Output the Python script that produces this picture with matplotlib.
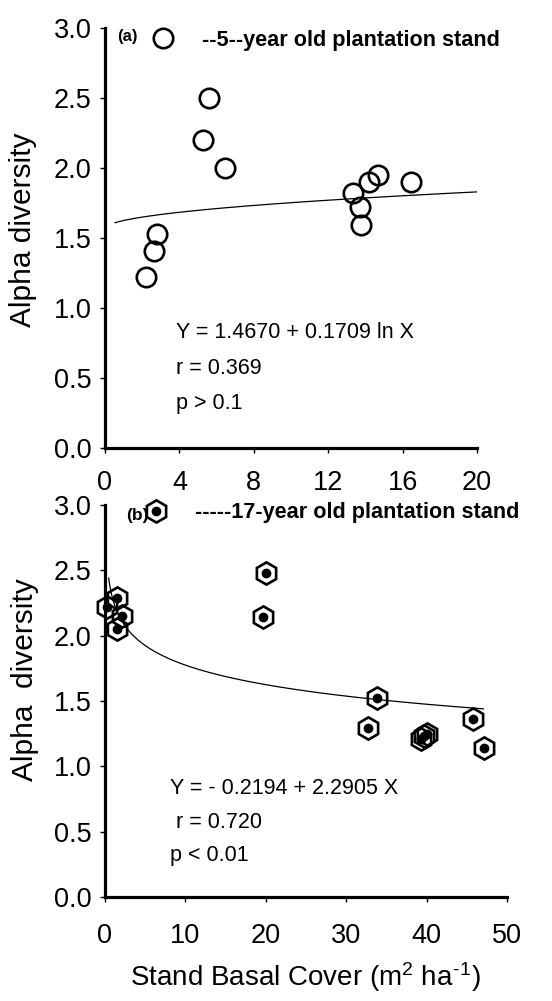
import numpy as np
import matplotlib.pyplot as plt

plt.rcParams['font.family'] = ['Liberation Sans', 'DejaVu Sans']
plt.rcParams['mathtext.default'] = 'regular'

# (a) 5-year old plantation stand
x_a = [2.19, 2.63, 2.81, 5.29, 5.59, 6.45, 13.32, 13.71, 13.75, 14.17, 14.66, 16.43]
y_a = [1.22, 1.41, 1.53, 2.20, 2.50, 2.00, 1.82, 1.72, 1.59, 1.90, 1.95, 1.90]
# (b) 17-year old plantation stand
x_b = [0.3, 1.5, 2.1, 1.5, 19.7, 20.0, 32.7, 33.8, 39.3, 39.7, 40.0, 45.8, 47.2]
y_b = [2.22, 2.29, 2.15, 2.05, 2.14, 2.48, 1.29, 1.52, 1.21, 1.23, 1.25, 1.36, 1.14]

# fitted curves as drawn in the picture
fit_a = (1.566, 0.0589)   # y = c + d*sqrt(x)
fit_b = (2.272, -0.216)   # y = c + d*ln(x)

eq_a = ['Y = 1.4670 + 0.1709 ln X', 'r = 0.369', 'p > 0.1']
eq_b = ['Y = - 0.2194 + 2.2905 X', ' r = 0.720', 'p < 0.01']

fig = plt.figure(figsize=(5.52, 10.01), dpi=100)
ax1 = fig.add_axes([105/552, 1-448/1001, 372/552, 420/1001])
ax2 = fig.add_axes([105/552, 1-897/1001, 402/552, 392/1001])

for ax in (ax1, ax2):
    for s in ['top', 'right']:
        ax.spines[s].set_visible(False)
    for s in ['left', 'bottom']:
        ax.spines[s].set_linewidth(2.3)
    ax.set_ylim(0, 3)
    ax.set_yticks([0, 0.5, 1.0, 1.5, 2.0, 2.5, 3.0])
    ax.set_yticklabels(['0.0', '0.5', '1.0', '1.5', '2.0', '2.5', '3.0'])
    ax.tick_params(direction='out', length=3.5, width=1, labelsize=19.5)
    ax.tick_params(axis='y', pad=6)

# --- panel (a)
ax1.set_xlim(0, 20)
ax1.set_xticks([0, 4, 8, 12, 16, 20])
ax1.tick_params(axis='x', pad=12)
xa = np.linspace(0.54, 20, 200)
ax1.plot(xa, fit_a[0] + fit_a[1]*np.sqrt(xa), color='k', lw=0.9)
ax1.plot(x_a, y_a, 'o', ms=14, mfc='none', mec='k', mew=1.9, clip_on=False)
h1, = ax1.plot([], [], 'o', ms=14, mfc='none', mec='k', mew=1.9)
ax1.legend([h1], ['--5--year old plantation stand'], loc='center left',
           bbox_to_anchor=(0.097, 0.971), frameon=False,
           prop={'weight': 'bold', 'size': 15.6}, borderpad=0, borderaxespad=0,
           handlelength=2, handletextpad=0.8)
ax1.text(0.032, 0.979, '(a)', transform=ax1.transAxes, fontsize=12,
         fontweight='bold', ha='left', va='center')
for t, yy in zip(eq_a, [0.274, 0.190, 0.105]):
    ax1.text(0.19, yy, t, transform=ax1.transAxes, fontsize=15.5, va='center')
ax1.set_ylabel('Alpha diversity', fontsize=21.5)
ax1.yaxis.set_label_coords(-0.22, 0.519)
ax1.yaxis.label.set_va('center')

# --- panel (b)
ax2.set_xlim(0, 50)
ax2.set_xticks([0, 10, 20, 30, 40, 50])
ax2.tick_params(axis='x', pad=15)
xb = np.linspace(0.46, 47.05, 300)
ax2.plot(xb, fit_b[0] + fit_b[1]*np.log(xb), color='k', lw=0.9)
ax2.plot(x_b, y_b, 'h', ms=16, mfc='none', mec='k', mew=1.9, clip_on=False)
ax2.plot(x_b, y_b, 'o', ms=6, color='k', clip_on=False)
hh, = ax2.plot([], [], 'h', ms=16, mfc='none', mec='k', mew=1.9)
hd, = ax2.plot([], [], 'o', ms=6, color='k')
ax2.legend([(hh, hd)], ['-----17-year old plantation stand'], loc='center left',
           bbox_to_anchor=(0.072, 0.980), frameon=False,
           prop={'weight': 'bold', 'size': 15.6}, borderpad=0, borderaxespad=0,
           handlelength=2, handletextpad=0.8)
ax2.text(0.052, 0.974, '(b)', transform=ax2.transAxes, fontsize=12.5,
         fontweight='bold', ha='left', va='center')
for t, yy in zip(eq_b, [0.278, 0.191, 0.107]):
    ax2.text(0.162, yy, t, transform=ax2.transAxes, fontsize=15.5, va='center')
ax2.set_ylabel('Alpha  diversity', fontsize=21.5)
ax2.yaxis.set_label_coords(-0.199, 0.554)
ax2.yaxis.label.set_va('center')
ax2.set_xlabel('Stand Basal Cover (m$^2$ ha$^{\u2010}$$^{1}$)', fontsize=20)
ax2.xaxis.set_label_coords(0.4975, -0.204)
ax2.xaxis.label.set_va('center')

fig.savefig('out.png', dpi=100)
